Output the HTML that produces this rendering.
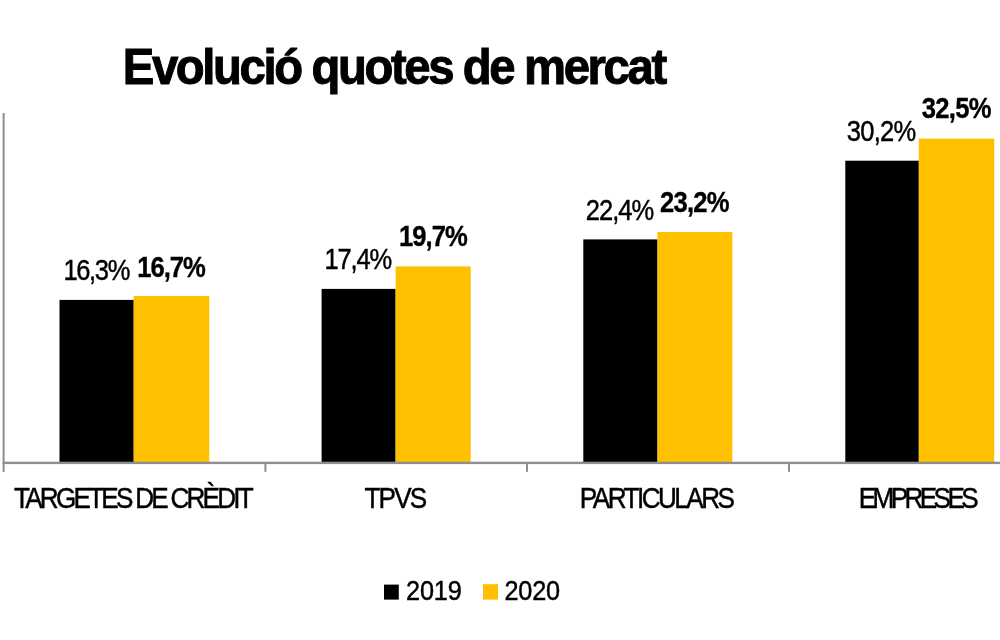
<!DOCTYPE html>
<html><head><meta charset="utf-8">
<style>
html,body{margin:0;padding:0;background:#fff;}
body{width:1000px;height:640px;overflow:hidden;}
svg{display:block;will-change:transform;}
text{font-family:"Liberation Sans",Arial,Helvetica,sans-serif;fill:#000;}
.r{font-weight:400;}
.b{font-weight:700;}
</style></head><body>
<svg width="1000" height="640" viewBox="0 0 1000 640">
<rect width="1000" height="640" fill="#fff"/>
<g>
<rect x="59.5" y="299.9" width="74.2" height="162.1" fill="#000"/>
<rect x="133.7" y="296.0" width="75.6" height="166.0" fill="#FFC000"/>
<rect x="321.6" y="288.9" width="74.0" height="173.1" fill="#000"/>
<rect x="395.6" y="266.4" width="75.1" height="195.6" fill="#FFC000"/>
<rect x="583.3" y="239.4" width="74.2" height="222.6" fill="#000"/>
<rect x="657.5" y="232.0" width="74.8" height="230.0" fill="#FFC000"/>
<rect x="845.3" y="160.7" width="73.5" height="301.3" fill="#000"/>
<rect x="918.8" y="138.6" width="75.4" height="323.4" fill="#FFC000"/>
</g>
<g fill="#8f8f8f">
<rect x="2.6" y="113" width="2" height="359"/>
<rect x="2.6" y="461.7" width="997.4" height="2.4"/>
<rect x="264.4" y="462" width="2" height="9.8"/>
<rect x="526" y="462" width="2" height="9.8"/>
<rect x="788" y="462" width="2" height="9.8"/>
</g>
<rect x="384" y="584.6" width="14.8" height="15" fill="#000"/>
<rect x="483" y="584.2" width="15" height="15.4" fill="#FFC000"/>
<text class="b" transform="translate(122.81,84.10) scale(0.94,1)" font-size="50.3" textLength="579.06" lengthAdjust="spacing" stroke="#000" stroke-width="1.0">Evolució quotes de mercat</text>
<text class="r" transform="translate(63.51,279.70) scale(0.88,1)" font-size="29.0" textLength="75.92" lengthAdjust="spacing" stroke="#000" stroke-width="0.45">16,3%</text>
<text class="b" transform="translate(137.13,277.00) scale(0.88,1)" font-size="29.1" textLength="78.08" lengthAdjust="spacing" stroke="#000" stroke-width="0.35">16,7%</text>
<text class="r" transform="translate(324.51,269.40) scale(0.88,1)" font-size="29.0" textLength="77.03" lengthAdjust="spacing" stroke="#000" stroke-width="0.45">17,4%</text>
<text class="b" transform="translate(398.88,246.40) scale(0.88,1)" font-size="29.1" textLength="78.36" lengthAdjust="spacing" stroke="#000" stroke-width="0.35">19,7%</text>
<text class="r" transform="translate(585.85,220.00) scale(0.88,1)" font-size="29.0" textLength="77.71" lengthAdjust="spacing" stroke="#000" stroke-width="0.45">22,4%</text>
<text class="b" transform="translate(660.05,211.80) scale(0.88,1)" font-size="29.1" textLength="78.94" lengthAdjust="spacing" stroke="#000" stroke-width="0.35">23,2%</text>
<text class="r" transform="translate(846.74,141.20) scale(0.88,1)" font-size="29.0" textLength="78.97" lengthAdjust="spacing" stroke="#000" stroke-width="0.45">30,2%</text>
<text class="b" transform="translate(921.87,118.40) scale(0.88,1)" font-size="29.1" textLength="79.15" lengthAdjust="spacing" stroke="#000" stroke-width="0.35">32,5%</text>
<text class="r" transform="translate(13.96,507.60) scale(0.9,1)" font-size="29.0" textLength="266.47" lengthAdjust="spacing" stroke="#000" stroke-width="0.45">TARGETES DE CRÈDIT</text>
<text class="r" transform="translate(364.46,507.60) scale(0.9,1)" font-size="29.0" textLength="69.80" lengthAdjust="spacing" stroke="#000" stroke-width="0.45">TPVS</text>
<text class="r" transform="translate(579.84,507.60) scale(0.9,1)" font-size="29.0" textLength="172.40" lengthAdjust="spacing" stroke="#000" stroke-width="0.45">PARTICULARS</text>
<text class="r" transform="translate(858.70,507.60) scale(0.9,1)" font-size="29.0" textLength="133.27" lengthAdjust="spacing" stroke="#000" stroke-width="0.45">EMPRESES</text>
<text class="r" transform="translate(405.99,599.70) scale(0.9,1)" font-size="28.1" textLength="61.96" lengthAdjust="spacing" stroke="#000" stroke-width="0.45">2019</text>
<text class="r" transform="translate(504.49,599.70) scale(0.9,1)" font-size="28.1" textLength="61.90" lengthAdjust="spacing" stroke="#000" stroke-width="0.45">2020</text>
</svg>
</body></html>
